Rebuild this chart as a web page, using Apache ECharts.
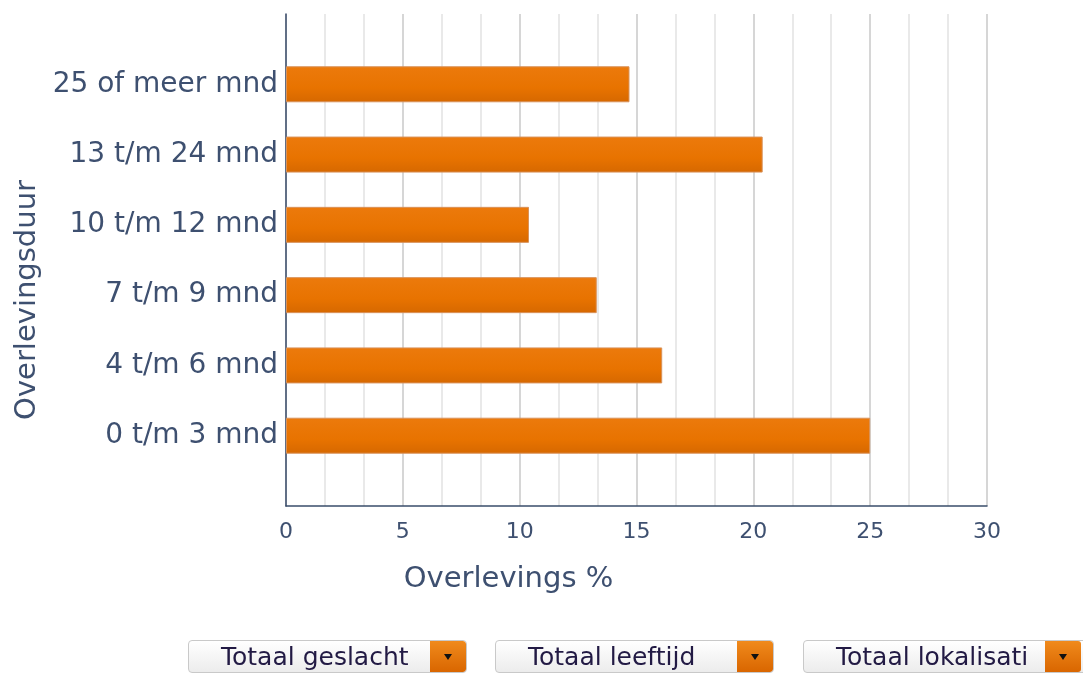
<!DOCTYPE html>
<html>
<head>
<meta charset="utf-8">
<script src="https://cdn.jsdelivr.net/npm/echarts@6/dist/echarts.min.js"></script>
<style>
  html, body { margin: 0; padding: 0; background: #fff; }
  .wrap { position: relative; width: 1083px; height: 674px; overflow: hidden; }
  #chart { width: 1083px; height: 674px; }
  .select {
    position: absolute; top: 640px; height: 31px; width: 277px;
    border: 1px solid #c9c9c9; border-radius: 4px;
    background: linear-gradient(#ffffff, #ececec);
    font-family: "DejaVu Sans", Verdana, sans-serif; font-size: 25px;
    color: #221a44; line-height: 31px; white-space: nowrap; overflow: hidden;
  }
  .select span { position: absolute; left: 32px; }
  .select b {
    position: absolute; right: 0; top: 0; width: 36px; height: 31px;
    background: linear-gradient(#f08a1c, #d96600); border-radius: 0 3px 3px 0;
  }
  .select b::after {
    content: ""; position: absolute; left: 14px; top: 13px;
    border-left: 4px solid transparent; border-right: 4px solid transparent;
    border-top: 6px solid #111;
  }
</style>
</head>
<body>
<div class="wrap">
  <div id="chart"></div>
  <div class="select" style="left:188px"><span>Totaal geslacht</span><b></b></div>
  <div class="select" style="left:495px"><span>Totaal leeftijd</span><b></b></div>
  <div class="select" style="left:803px;width:300px"><span>Totaal lokalisati</span><b style="right:23px"></b></div>
</div>
<script>
// categorieën (van onder naar boven), lege plekken aan de randen
const categories = ['', '0 t/m 3 mnd', '4 t/m 6 mnd', '7 t/m 9 mnd', '10 t/m 12 mnd', '13 t/m 24 mnd', '25 of meer mnd', ''];
const overleving = [null, 25.0, 16.1, 13.3, 10.4, 20.4, 14.7, null];
const xTicks = [0, 5, 10, 15, 20, 25, 30];

const textColor = '#3e5070';
const font = 'DejaVu Sans';

const chart = echarts.init(document.getElementById('chart'));
const option = {
  animation: false,
  grid: { left: 286, top: 14, width: 701, height: 492, containLabel: false },
  xAxis: {
    type: 'value',
    min: xTicks[0],
    max: xTicks[xTicks.length - 1],
    interval: 5,
    name: 'Overlevings %',
    nameLocation: 'middle',
    nameGap: 59,
    // titel staat links van het midden van de plot
    nameTextStyle: { color: textColor, fontFamily: font, fontSize: 29, padding: [0, 256, 0, 0] },
    axisLine: { show: true, lineStyle: { color: '#3a4d6b', width: 1.5 } },
    axisTick: { show: false },
    axisLabel: { color: textColor, fontFamily: font, fontSize: 22, margin: 15 },
    splitLine: { show: true, lineStyle: { color: '#c8c8c8', width: 1.5 } },
    minorTick: { show: false, splitNumber: 3 },
    minorSplitLine: { show: true, lineStyle: { color: '#e2e2e2', width: 1.5 } }
  },
  yAxis: {
    type: 'category',
    data: categories,
    boundaryGap: false,
    name: 'Overlevingsduur',
    nameLocation: 'middle',
    nameGap: 240,
    nameRotate: 90,
    nameTextStyle: { color: textColor, fontFamily: font, fontSize: 29, padding: [0, 80, 0, 0] },
    axisLine: { show: true, lineStyle: { color: '#3a4d6b', width: 1.5 } },
    axisTick: { show: false },
    axisLabel: { color: textColor, fontFamily: font, fontSize: 28, margin: 8 },
    splitLine: { show: false }
  },
  series: [{
    type: 'bar',
    data: overleving,
    barWidth: 36,
    itemStyle: {
      color: new echarts.graphic.LinearGradient(0, 0, 0, 1, [
        { offset: 0, color: '#ec7a0c' },
        { offset: 0.6, color: '#e87300' },
        { offset: 1, color: '#d66800' }
      ]),
      borderColor: '#d9925a',
      borderWidth: 1
    }
  }]
};
chart.setOption(option);
</script>
</body>
</html>
